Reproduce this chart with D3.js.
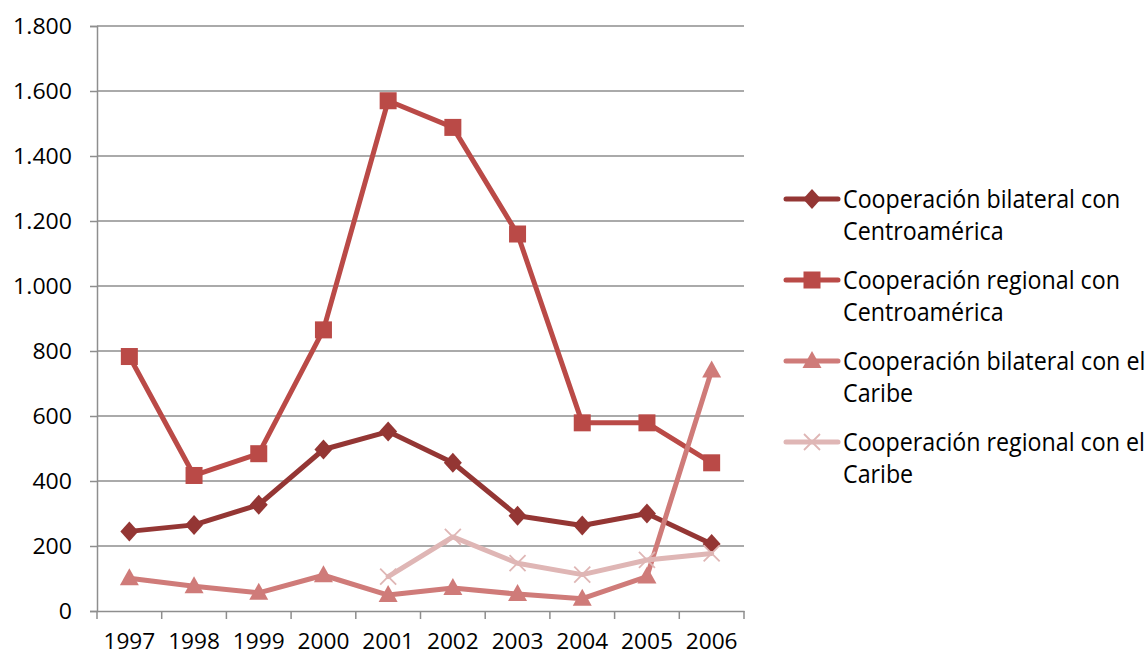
<!DOCTYPE html>
<html><head><meta charset="utf-8">
<script src="https://cdn.jsdelivr.net/npm/d3@7"></script>
<style>body{margin:0;background:#fff}svg{display:block;font-family:"Open Sans","Noto Sans",sans-serif}</style>
</head><body><svg id="c" width="1148" height="655"></svg>
<script>
const years = ["1997","1998","1999","2000","2001","2002","2003","2004","2005","2006"];
const bilateralCA = [245, 265, 327, 497, 552, 456, 293, 263, 300, 206];
const regionalCA = [783, 417, 484, 865, 1570, 1488, 1160, 579, 579, 456];
const bilateralCaribe = [101, 76, 56, 110, 49, 71, 52, 38, 106, 740];
const regionalCaribe = [null, null, null, null, 106, 228, 147, 112, 157, 177];
const yTicks = [0,200,400,600,800,1000,1200,1400,1600,1800];
const yTickLabels = ["0","200","400","600","800","1.000","1.200","1.400","1.600","1.800"];
const seriesNames = [["Cooperación bilateral con","Centroamérica"],["Cooperación regional con","Centroamérica"],["Cooperación bilateral con el","Caribe"],["Cooperación regional con el","Caribe"]];

const series = [
  {vals: bilateralCA, color:"#943634", sym:"diamond", name: seriesNames[0]},
  {vals: regionalCA, color:"#BA4A47", sym:"square", name: seriesNames[1]},
  {vals: bilateralCaribe, color:"#CF7B79", sym:"triangle", name: seriesNames[2]},
  {vals: regionalCaribe, color:"#DFB6B5", sym:"x", name: seriesNames[3]}
];

const svg = d3.select("#c");
const L=97, R=744, T=26, B=611;
const x = d3.scaleBand().domain(years).range([L,R]);
const y = d3.scaleLinear().domain([0,1800]).range([B,T]);
const cx = d => x(d)+x.bandwidth()/2;
const SXx = 1.03, SXy = 1.05, FS = 22;

// gridlines
svg.append("g").selectAll("line").data(yTicks.slice(1)).join("line")
  .attr("x1",L).attr("x2",R).attr("y1",d=>y(d)).attr("y2",d=>y(d))
  .attr("stroke","#8e8e8e").attr("stroke-width",1.5);

// y axis
const ya = svg.append("g").attr("transform",`translate(${L},0)`)
  .call(d3.axisLeft(y).tickValues(yTicks).tickSize(7).tickFormat((d,i)=>yTickLabels[i]));
ya.select(".domain").attr("stroke","#8e8e8e").attr("stroke-width",1.5);
ya.selectAll(".tick line").attr("stroke","#8e8e8e").attr("stroke-width",1.5);
ya.selectAll("text").attr("font-size",FS).attr("fill","#000")
  .style("font-family","'Open Sans','Noto Sans',sans-serif")
  .attr("x",-25/SXy).attr("dy","0.36em").attr("transform",`scale(${SXy},1)`);

// x axis
const xa = svg.append("g").attr("transform",`translate(0,${B})`)
  .call(d3.axisBottom(x).tickSize(0));
xa.select(".domain").attr("stroke","#8e8e8e").attr("stroke-width",1.5);
xa.selectAll("text").attr("font-size",FS).attr("fill","#000")
  .style("font-family","'Open Sans','Noto Sans',sans-serif")
  .attr("y",38).attr("dy",0).attr("transform",`scale(${SXx},1)`);
svg.append("g").selectAll("line").data(d3.range(years.length+1)).join("line")
  .attr("x1",i=>L+i*x.bandwidth()).attr("x2",i=>L+i*x.bandwidth())
  .attr("y1",B).attr("y2",B+8).attr("stroke","#8e8e8e").attr("stroke-width",1.5);

function marker(g, sym, color, px, py){
  if(sym==="diamond"){
    g.append("path").attr("d",`M${px},${py-10}L${px+9},${py}L${px},${py+10}L${px-9},${py}Z`).attr("fill",color);
  } else if(sym==="square"){
    g.append("rect").attr("x",px-8.5).attr("y",py-8.5).attr("width",17).attr("height",17).attr("fill",color);
  } else if(sym==="triangle"){
    g.append("path").attr("d",`M${px},${py-10}L${px+9.5},${py+7}L${px-9.5},${py+7}Z`).attr("fill",color);
  } else {
    g.append("path").attr("d",`M${px-8},${py-8}L${px+8},${py+8}M${px-8},${py+8}L${px+8},${py-8}`).attr("stroke",color).attr("stroke-width",1.8);
  }
}

const line = d3.line().defined(d=>d.v!=null).x(d=>cx(d.year)).y(d=>y(d.v));
series.forEach(s=>{
  const data = years.map((yr,i)=>({year:yr, v:s.vals[i]}));
  const g = svg.append("g");
  g.append("path").datum(data).attr("d",line).attr("fill","none")
    .attr("stroke",s.color).attr("stroke-width",5).attr("stroke-linejoin","round").attr("stroke-linecap","round");
  data.filter(d=>d.v!=null).forEach(d=>marker(g,s.sym,s.color,cx(d.year),y(d.v)));
});

// legend
const LSX = 0.93;
const lg = svg.append("g");
series.forEach((s,i)=>{
  const yy = 199 + i*81;
  lg.append("line").attr("x1",786).attr("x2",838).attr("y1",yy).attr("y2",yy)
    .attr("stroke",s.color).attr("stroke-width",5).attr("stroke-linecap","round");
  marker(lg, s.sym, s.color, 812, yy);
  s.name.forEach((t,j)=>{
    lg.append("text").attr("x",843/LSX).attr("y",yy+9+j*32)
      .attr("transform",`scale(${LSX},1)`)
      .attr("font-size",25).attr("fill","#000").text(t);
  });
});
</script></body></html>
